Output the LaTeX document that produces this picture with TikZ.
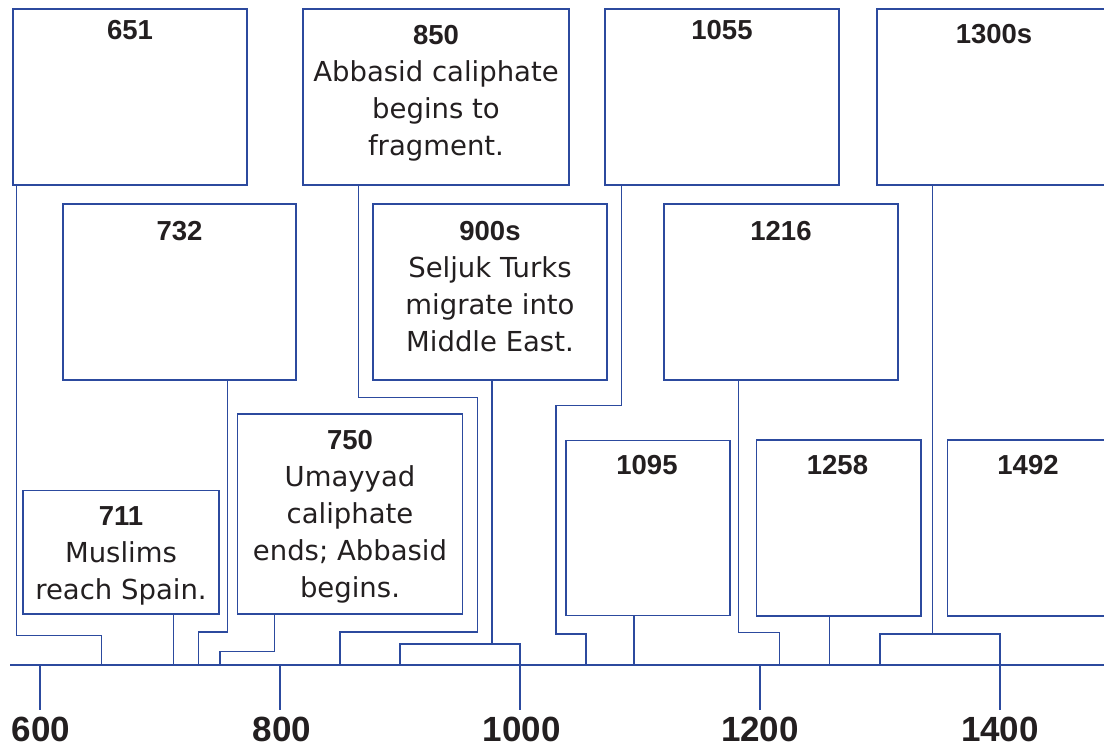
\documentclass[tikz,border=0pt]{standalone}
\usepackage{fontspec}
\setmainfont{DejaVu Sans}
\newfontfamily\numfont{Liberation Sans}
\definecolor{lineblue}{RGB}{44,74,158}
\definecolor{txt}{RGB}{35,31,32}
\begin{document}
\begin{tikzpicture}[x=1pt,y=-1pt,
  evbox/.style={draw=lineblue, line width=1.4pt, inner sep=0pt},
  conn/.style={draw=lineblue, line width=1.4pt},
  evtext/.style={anchor=base, align=center, text=txt, inner sep=0pt, font=\fontsize{27.5}{37}\selectfont},
  axlab/.style={anchor=base, text=txt, inner sep=0pt, font=\numfont\bfseries\fontsize{35}{40}\selectfont}]
\useasboundingbox (0,0) rectangle (1104,747);

% axis coordinates
\coordinate (axL) at (10,665);
\coordinate (axR) at (1104,665);
\coordinate (a600) at (40,665);
\coordinate (a651) at (101.2,665);
\coordinate (a711) at (173.2,665);
\coordinate (a732) at (198.4,665);
\coordinate (a750) at (220,665);
\coordinate (a800) at (280,665);
\coordinate (a850) at (340,665);
\coordinate (a900) at (400,665);
\coordinate (a1000) at (520,665);
\coordinate (a1055) at (586,665);
\coordinate (a1095) at (634,665);
\coordinate (a1200) at (760,665);
\coordinate (a1216) at (779.2,665);
\coordinate (a1258) at (829.6,665);
\coordinate (a1300) at (880,665);
\coordinate (a1400) at (1000,665);

% boxes
\node[evbox, minimum width=234pt, minimum height=176pt] (b651) at (130,97) {};
\node[evbox, minimum width=233pt, minimum height=176pt] (b732) at (179.5,292) {};
\node[evbox, minimum width=266pt, minimum height=176pt] (b850) at (436,97) {};
\node[evbox, minimum width=234pt, minimum height=176pt] (b900) at (490,292) {};
\node[evbox, minimum width=234pt, minimum height=176pt] (b1055) at (722,97) {};
\node[evbox, minimum width=234pt, minimum height=176pt] (b1216) at (781,292) {};
\node[evbox, minimum width=234pt, minimum height=176pt] (b1300) at (994,97) {};
\node[evbox, minimum width=196.3pt, minimum height=123.3pt] (b711) at (121,552.3) {};
\node[evbox, minimum width=224.6pt, minimum height=200pt] (b750) at (350,514) {};
\node[evbox, minimum width=164.3pt, minimum height=175.5pt] (b1095) at (648,528) {};
\node[evbox, minimum width=164.3pt, minimum height=176pt] (b1258) at (838.8,528) {};
\node[evbox, minimum width=164.3pt, minimum height=176pt] (b1492) at (1029.5,528) {};

% texts (anchor = baseline of the last line)
\node[evtext] (t651) at (130,39) {{\numfont\bfseries 651}};
\node[evtext] (t732) at (179.5,240) {{\numfont\bfseries 732}};
\node[evtext] (t850) at (436,155.5) {{\numfont\bfseries 850}\\Abbasid caliphate\\begins to\\fragment.};
\node[evtext] (t900) at (490,351.5) {{\numfont\bfseries 900s}\\Seljuk Turks\\migrate into\\Middle East.};
\node[evtext] (t1055) at (722,39) {{\numfont\bfseries 1055}};
\node[evtext] (t1216) at (781,240) {{\numfont\bfseries 1216}};
\node[evtext] (t1300) at (994,43) {{\numfont\bfseries 1300s}};
\node[evtext] (t711) at (121,599) {{\numfont\bfseries 711}\\Muslims\\reach Spain.};
\node[evtext] (t750) at (350,597.5) {{\numfont\bfseries 750}\\Umayyad\\caliphate\\ends; Abbasid\\begins.};
\node[evtext] (t1095) at (647,474) {{\numfont\bfseries 1095}};
\node[evtext] (t1258) at (837.5,474) {{\numfont\bfseries 1258}};
\node[evtext] (t1492) at (1028,474) {{\numfont\bfseries 1492}};

% axis
\draw[conn] (axL) -- (axR);
\foreach \t in {600,800,1000,1200,1400} \draw[conn] (a\t) -- ++(0,45);
\node[axlab] (l600) at (41,741.7) {600};
\node[axlab] (l800) at (282,741.7) {800};
\node[axlab] (l1000) at (521.7,741.7) {1000};
\node[axlab] (l1200) at (760,741.7) {1200};
\node[axlab] (l1400) at (1000,741.7) {1400};

% connectors
\draw[conn] ([xshift=4pt]b651.south west) |- ([yshift=29.5pt]a651) -- (a651);
\draw[conn] (b711.south -| a711) -- (a711);
\draw[conn] ([xshift=-69pt]b732.south east) |- ([yshift=33pt]a732) -- (a732);
\draw[conn] ([xshift=37.3pt]b750.south west) |- ([yshift=13.3pt]a750) -- (a750);
\draw[conn] ([xshift=56pt]b850.south west) -- ++(0,212) -- ++(119,0) |- ([yshift=33pt]a850) -- (a850);
\draw[conn] ([xshift=2pt]b900.south) -- ++(0,264);
\draw[conn] (a900) -- ++(0,-21) -| (a1000);
\draw[conn] ([xshift=17pt]b1055.south west) -- ++(0,219.7) -- ++(-65.3,0) |- ([yshift=31pt]a1055) -- (a1055);
\draw[conn] (b1095.south -| a1095) -- (a1095);
\draw[conn] ([xshift=75pt]b1216.south west) |- ([yshift=32.3pt]a1216) -- (a1216);
\draw[conn] (b1258.south -| a1258) -- (a1258);
\draw[conn] ([xshift=56pt]b1300.south west) -- ++(0,449);
\draw[conn] (a1300) -- ++(0,-31) -| (a1400);
\end{tikzpicture}
\end{document}
